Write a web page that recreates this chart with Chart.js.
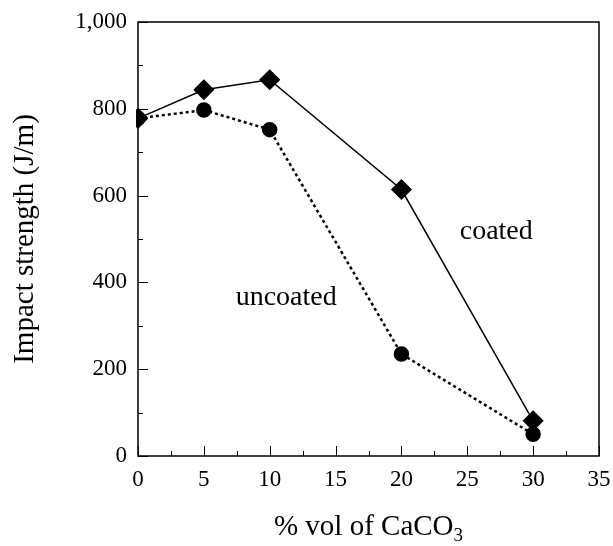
<!DOCTYPE html>
<html>
<head>
<meta charset="utf-8">
<script src="https://cdn.jsdelivr.net/npm/chart.js@4.4.1/dist/chart.umd.min.js"></script>
<style>
  html, body { margin: 0; padding: 0; background: #fff; }
  #wrap { width: 613px; height: 546px; }
</style>
</head>
<body>
<div id="wrap"><canvas id="c" width="613" height="546"></canvas></div>
<script>
// CaCO3 loading (% vol)
const loading = [0, 5, 10, 20, 30];
// Impact strength (J/m)
const coated = [778, 844, 867, 614, 81];
const uncoated = [778, 797, 752, 235, 50];
// Series labels written inside the plot: [text, x value, y value]
const seriesLabels = [
  ['coated', 27.2, 500],
  ['uncoated', 11.25, 348]
];
const xTitle = '% vol of CaCO';
const xTitleSub = '3';
const yTitle = 'Impact strength (J/m)';

const SERIF = "'Liberation Serif', 'Times New Roman', serif";

const frameAndTicks = {
  id: 'frameAndTicks',
  afterDatasetsDraw(chart) {
    const { ctx, chartArea: a, scales } = chart;
    const xs = scales.x, ys = scales.y;
    ctx.save();
    ctx.strokeStyle = '#000';
    ctx.lineWidth = 1.5;
    ctx.strokeRect(a.left, a.top, a.right - a.left, a.bottom - a.top);
    ctx.lineWidth = 1;
    ctx.beginPath();
    // inward ticks on the x axis: major every 5, minor halfway
    for (let v = 0; v <= 35; v += 2.5) {
      const px = Math.round(xs.getPixelForValue(v)) + 0.5;
      const len = (v % 5 === 0) ? 10 : 5;
      ctx.moveTo(px, a.bottom);
      ctx.lineTo(px, a.bottom - len);
    }
    // inward ticks on the y axis: major every 200, minor every 100
    for (let v = 0; v <= 1000; v += 100) {
      const py = Math.round(ys.getPixelForValue(v)) + 0.5;
      const len = (v % 200 === 0) ? 10 : 5;
      ctx.moveTo(a.left, py);
      ctx.lineTo(a.left + len, py);
    }
    ctx.stroke();

    // series labels
    ctx.fillStyle = '#000';
    ctx.font = '28px ' + SERIF;
    ctx.textAlign = 'center';
    ctx.textBaseline = 'alphabetic';
    seriesLabels.forEach(([t, xv, yv]) => {
      ctx.fillText(t, xs.getPixelForValue(xv), ys.getPixelForValue(yv));
    });

    // x axis title with subscript
    const main = xTitle, sub = xTitleSub;
    ctx.font = '29px ' + SERIF;
    const wMain = ctx.measureText(main).width;
    ctx.font = '19px ' + SERIF;
    const wSub = ctx.measureText(sub).width;
    const cx = (a.left + a.right) / 2;
    const x0 = cx - (wMain + wSub) / 2;
    const base = 535;
    ctx.textAlign = 'left';
    ctx.font = '29px ' + SERIF;
    ctx.fillText(main, x0, base);
    ctx.font = '19px ' + SERIF;
    ctx.fillText(sub, x0 + wMain, base + 6);
    ctx.restore();
  }
};

new Chart(document.getElementById('c'), {
  type: 'line',
  data: {
    labels: loading,
    datasets: [
      {
        label: 'coated',
        data: loading.map((x, i) => ({ x, y: coated[i] })),
        borderColor: '#000',
        backgroundColor: '#000',
        borderWidth: 1.5,
        pointStyle: 'rectRot',
        pointRadius: 9.5,
        pointHoverRadius: 9.5,
        clip: { left: 2, top: 20, right: 20, bottom: 20 }
      },
      {
        label: 'uncoated',
        data: loading.map((x, i) => ({ x, y: uncoated[i] })),
        borderColor: '#000',
        backgroundColor: '#000',
        borderWidth: 2.5,
        borderDash: [3, 3],
        pointStyle: 'circle',
        pointRadius: 6.5,
        pointHoverRadius: 6.5,
        clip: { left: 2, top: 20, right: 20, bottom: 20 }
      }
    ]
  },
  options: {
    responsive: false,
    animation: false,
    layout: { padding: { top: 22, right: 14, left: 0, bottom: 0 } },
    plugins: { legend: { display: false }, tooltip: { enabled: false } },
    elements: { line: { tension: 0 } },
    scales: {
      x: {
        type: 'linear',
        min: 0, max: 35,
        grid: { display: false, drawTicks: false },
        border: { display: false },
        ticks: {
          stepSize: 5,
          padding: 10,
          color: '#000',
          font: { family: SERIF, size: 23 }
        },
        afterFit(s) { s.height = 90; s.paddingLeft = 0; s.paddingRight = 0; }
      },
      y: {
        type: 'linear',
        min: 0, max: 1000,
        grid: { display: false, drawTicks: false },
        border: { display: false },
        ticks: {
          stepSize: 200,
          padding: 11,
          color: '#000',
          font: { family: SERIF, size: 23 },
          callback: (v) => v.toLocaleString('en-US')
        },
        title: {
          display: true,
          text: yTitle,
          color: '#000',
          font: { family: SERIF, size: 29 },
          padding: { top: 8, bottom: 0 }
        },
        afterFit(s) { s.width = 138; s.paddingTop = 0; s.paddingBottom = 0; }
      }
    }
  },
  plugins: [frameAndTicks]
});
</script>
</body>
</html>
